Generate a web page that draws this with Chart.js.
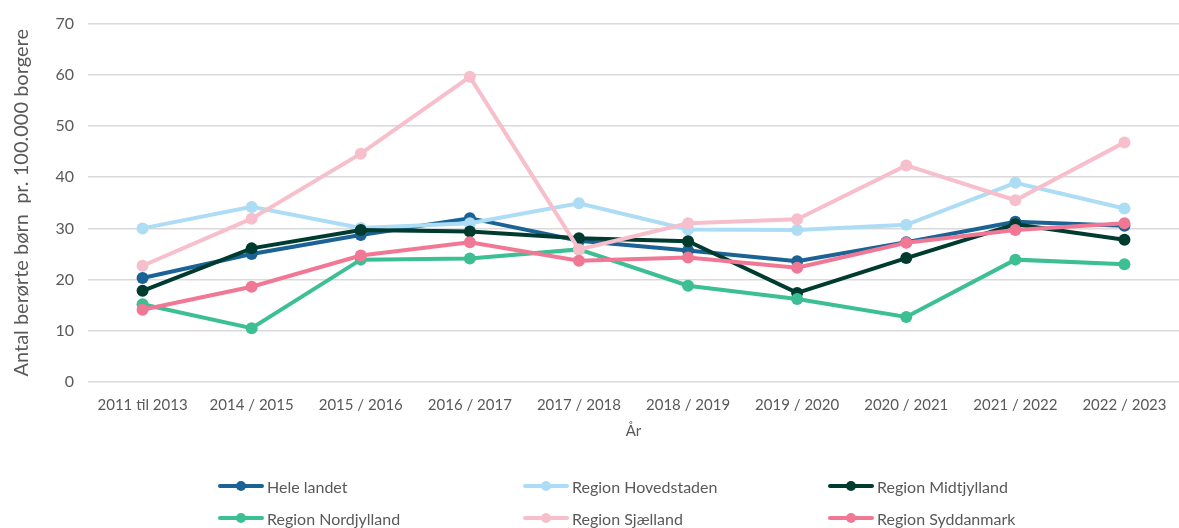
<!DOCTYPE html>
<html>
<head>
<meta charset="utf-8">
<script src="https://cdn.jsdelivr.net/npm/chart.js@4"></script>
<style>
  html, body { margin: 0; padding: 0; background: #fff; }
  #wrap { position: relative; width: 1179px; height: 528px; overflow: hidden; }
  #legend {
    position: absolute; left: 218px; top: 474px;
    display: grid; grid-template-columns: 305px 305px 305px; row-gap: 8px;
    font-family: Lato, "Open Sans", sans-serif; font-size: 16px; color: #595959;
  }
  .item { display: flex; align-items: center; height: 24px; }
  .sw { position: relative; width: 46px; height: 4px; margin-right: 3px; border-radius: 2px; }
  .sw span { position: absolute; left: 18px; top: -3px; width: 10px; height: 10px; border-radius: 5px; background: inherit; }
</style>
</head>
<body>
<div id="wrap">
  <canvas id="chart" width="1179" height="528"></canvas>
  <div id="legend"></div>
</div>
<script>
const labels = ['2011 til 2013', '2014 / 2015', '2015 / 2016', '2016 / 2017', '2017 / 2018',
                '2018 / 2019', '2019 / 2020', '2020 / 2021', '2021 / 2022', '2022 / 2023'];

const heleLandet   = [20.3, 25.0, 28.7, 32.0, 27.6, 25.7, 23.6, 27.3, 31.3, 30.5];
const hovedstaden  = [30.0, 34.2, 30.1, 31.0, 34.9, 29.8, 29.7, 30.7, 38.9, 33.9];
const midtjylland  = [17.8, 26.1, 29.7, 29.4, 28.1, 27.5, 17.4, 24.2, 30.8, 27.8];
const nordjylland  = [15.2, 10.5, 23.9, 24.1, 25.9, 18.8, 16.2, 12.7, 23.9, 23.0];
const sjaelland    = [22.7, 31.9, 44.6, 59.6, 25.9, 31.0, 31.8, 42.3, 35.5, 46.8];
const syddanmark   = [14.1, 18.6, 24.7, 27.3, 23.7, 24.3, 22.3, 27.2, 29.7, 31.0];

const seriesNames  = ['Hele landet', 'Region Hovedstaden', 'Region Midtjylland',
                      'Region Nordjylland', 'Region Sjælland', 'Region Syddanmark'];
const seriesData   = [heleLandet, hovedstaden, midtjylland, nordjylland, sjaelland, syddanmark];
const seriesColors = ['#1a6394', '#addcf5', '#003b30', '#3dbf94', '#f7bfcb', '#f07895'];

const font = 'Lato, "Open Sans", sans-serif';

const datasets = seriesNames.map(function(name, i) {
    return {
        label: name,
        data: seriesData[i],
        borderColor: seriesColors[i],
        backgroundColor: seriesColors[i],
        borderWidth: 4,
        pointRadius: 6,
        pointHoverRadius: 6,
        pointBorderWidth: 0,
        tension: 0,
        order: seriesNames.length - i  // later series drawn on top
    };
});

new Chart(document.getElementById('chart'), {
    type: 'line',
    data: { labels: labels, datasets: datasets },
    options: {
        responsive: false,
        animation: false,
        layout: { autoPadding: false, padding: { top: 12, right: 0, bottom: 88, left: 0 } },
        plugins: { legend: { display: false }, tooltip: { enabled: false } },
        scales: {
            x: {
                offset: true,
                grid: { display: false },
                border: { display: false },
                ticks: { color: '#595959', font: { family: font, size: 15 }, padding: 6, maxRotation: 0, autoSkip: false },
                title: { display: true, text: 'År', color: '#595959', font: { family: font, size: 15 }, padding: { top: 2, bottom: 0 } },
                afterFit: function(s) { s.height = 58; s.paddingLeft = 0; s.paddingRight = 0; }
            },
            y: {
                min: 0, max: 70,
                ticks: { stepSize: 10, color: '#595959', font: { family: font, size: 16 }, padding: 14 },
                grid: { color: '#d9d9d9', lineWidth: 1.5, drawTicks: false },
                border: { display: false },
                title: { display: true, text: 'Antal berørte børn  pr. 100.000 borgere', color: '#595959', font: { family: font, size: 20 }, padding: { top: 10, bottom: 0 } },
                afterFit: function(s) { s.width = 88; }
            }
        }
    }
});

// legend in three fixed columns
const legendBox = document.getElementById('legend');
seriesNames.forEach(function(name, i) {
    const item = document.createElement('div');
    item.className = 'item';
    const sw = document.createElement('div');
    sw.className = 'sw';
    sw.style.background = seriesColors[i];
    sw.appendChild(document.createElement('span'));
    item.appendChild(sw);
    item.appendChild(document.createTextNode(name));
    legendBox.appendChild(item);
});
</script>
</body>
</html>
